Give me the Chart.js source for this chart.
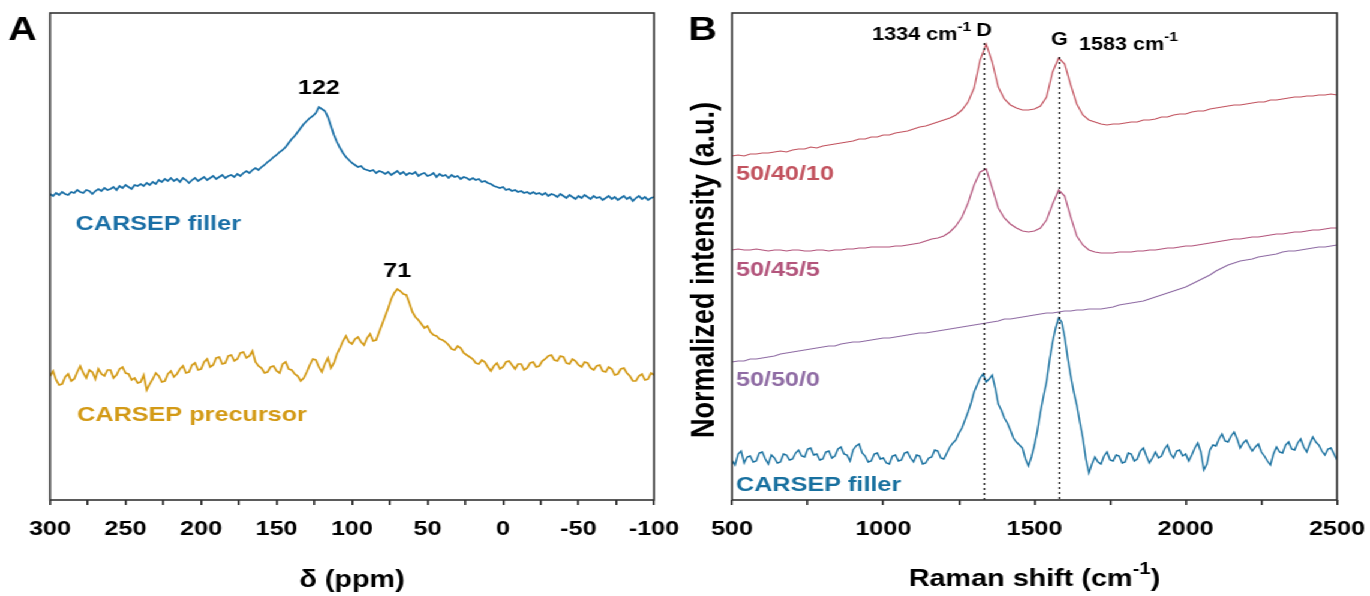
<!DOCTYPE html>
<html lang="en">
<head>
<meta charset="UTF-8">
<title>NMR and Raman spectra</title>
<script src="https://cdn.jsdelivr.net/npm/chart.js"></script>
<style>
  html, body { margin: 0; padding: 0; background: #fff; }
  /* the figure is drawn narrow and stretched sideways, like the original */
  #stage { position: absolute; left: 0; top: 0; width: 1142px; height: 596px;
           transform: scaleX(1.19965); transform-origin: 0 0; }
  #stage canvas { position: absolute; top: 0; }
</style>
</head>
<body>
<div id="stage">
  <canvas id="nmrChart" width="571" height="596" style="left:0"></canvas>
  <canvas id="ramanChart" width="571" height="596" style="left:571px"></canvas>
</div>
<script>
// ---- panel A: 13C NMR, delta (ppm) ----
const ppmA = [300,298,296,294,292,290,288,286,284,282,280,278,276,274,272,270,268,266,264,262,
  260,258,256,254,252,250,248,246,244,242,240,238,236,234,232,230,228,226,224,222,
  220,218,216,214,212,210,208,206,204,202,200,198,196,194,192,190,188,186,184,182,
  180,178,176,174,172,170,168,166,164,162,160,158,156,154,152,150,148,146,144,142,
  140,138,136,134,132,130,128,126,124,122,120,118,116,114,112,110,108,106,104,102,
  100,98,96,94,92,90,88,86,84,82,80,78,76,74,72,70,68,66,64,62,
  60,58,56,54,52,50,48,46,44,42,40,38,36,34,32,30,28,26,24,22,
  20,18,16,14,12,10,8,6,4,2,0,-2,-4,-6,-8,-10,-12,-14,-16,-18,
  -20,-22,-24,-26,-28,-30,-32,-34,-36,-38,-40,-42,-44,-46,-48,-50,-52,-54,-56,-58,
  -60,-62,-64,-66,-68,-70,-72,-74,-76,-78,-80,-82,-84,-86,-88,-90,-92,-94,-96,-98,
  -100];
const fillerA = [306,304,307,305,308,306,305,308,307,310,308,307,310,309,306,309,311,309,312,310,
  311,313,310,314,312,315,313,311,315,314,316,314,317,315,318,316,320,318,321,319,
  322,319,321,318,322,320,317,320,322,319,321,323,320,322,324,321,323,325,322,324,
  325,323,326,324,327,329,327,330,332,330,333,335,338,340,343,345,348,350,353,357,
  361,364,368,372,376,379,382,384,387,393,391,389,383,374,365,358,352,347,343,340,
  337,335,333,334,331,330,329,330,327,329,328,326,328,325,327,329,326,328,325,327,
  326,328,324,326,327,324,325,327,323,326,324,325,322,325,323,324,321,323,322,320,
  322,320,321,318,319,317,316,314,313,312,313,310,311,309,310,308,309,307,308,306,
  308,306,307,305,307,304,306,305,303,306,304,302,305,303,301,304,302,305,303,301,
  304,302,303,300,302,304,301,303,300,302,304,301,303,299,302,304,301,303,300,302,
  303];
const precursorA = [124,129,120,115,116,123,126,119,121,128,134,127,122,130,128,121,131,126,124,130,
  130,122,125,131,133,127,126,120,122,117,118,125,110,116,121,127,124,118,119,126,
  129,123,126,131,134,127,128,135,137,130,131,138,141,133,135,142,143,136,137,144,
  145,139,141,147,148,142,144,149,138,134,132,127,128,133,134,129,127,136,138,131,
  130,126,124,119,122,128,135,141,140,133,128,136,142,132,137,146,152,159,164,158,
  156,161,163,158,155,162,166,159,160,168,176,184,192,201,207,211,209,206,205,197,
  188,183,180,176,172,174,168,165,164,161,160,158,155,151,150,154,152,147,145,143,
  141,137,136,140,138,133,129,134,137,131,133,138,139,135,131,136,136,130,132,137,
  138,133,134,139,141,144,145,140,139,144,143,137,136,141,139,135,133,138,137,132,
  130,134,135,129,128,133,131,125,126,131,132,127,124,119,119,124,126,120,121,127,
  125];

// ---- panel B: Raman shift (cm-1) ----
const ramanX = [500,520,540,560,580,600,620,640,660,680,
  700,720,740,760,780,800,820,840,860,880,
  900,920,940,960,980,1000,1020,1040,1060,1080,
  1100,1120,1140,1160,1180,1200,1220,1240,1260,1280,
  1300,1320,1340,1360,1380,1400,1420,1440,1460,1480,
  1500,1520,1540,1560,1580,1600,1620,1640,1660,1680,
  1700,1720,1740,1760,1780,1800,1820,1840,1860,1880,
  1900,1920,1940,1960,1980,2000,2020,2040,2060,2080,
  2100,2120,2140,2160,2180,2200,2220,2240,2260,2280,
  2300,2320,2340,2360,2380,2400,2420,2440,2460,2480,
  2500];
const s50_40_10 = [344,345,344,346,346,347,347,348,349,348,
  350,351,351,353,352,354,355,356,357,358,
  359,361,361,363,363,365,365,367,368,369,
  371,373,374,376,378,380,382,385,390,398,
  412,440,456,438,413,401,395,392,390,390,
  391,394,403,428,442,436,415,396,385,380,
  378,376,375,376,376,377,378,378,380,380,
  381,383,383,385,386,386,388,389,389,391,
  392,393,394,395,395,396,397,398,398,400,
  400,401,402,403,403,404,404,405,405,406,
  405];
const s50_45_5 = [250,251,250,250,251,250,249,250,250,249,
  250,250,249,249,250,250,249,250,250,251,
  251,252,252,253,253,253,253,254,254,255,
  256,257,259,261,262,264,268,274,283,297,
  315,328,331,312,292,282,276,272,269,268,
  269,272,280,296,310,304,283,264,255,250,
  248,247,247,247,248,248,248,249,249,250,
  250,251,252,252,253,254,254,255,256,257,
  258,259,260,261,261,262,263,263,264,265,
  266,266,267,268,268,269,270,270,271,272,
  272];
const s50_50_0 = [138,139,139,141,141,142,143,144,146,147,
  148,149,150,151,152,153,154,154,156,157,
  158,158,159,160,161,162,162,163,164,165,
  166,167,167,168,169,170,171,172,173,174,
  175,176,177,178,179,181,181,182,183,184,
  185,186,187,187,188,189,189,190,190,191,
  191,191,192,193,195,196,197,198,199,201,
  203,205,207,209,211,213,216,219,222,225,
  229,232,235,237,239,240,241,243,244,245,
  246,248,249,249,250,251,252,253,253,254,
  255];
// the filler spectrum is noisier, so it is read at a finer step
const ramanXFine = [500,510,520,530,540,550,560,570,580,590,600,610,620,630,640,650,660,670,680,690,
  700,710,720,730,740,750,760,770,780,790,800,810,820,830,840,850,860,870,880,890,
  900,910,920,930,940,950,960,970,980,990,1000,1010,1020,1030,1040,1050,1060,1070,1080,1090,
  1100,1110,1120,1130,1140,1150,1160,1170,1180,1190,1200,1210,1220,1230,1240,1250,1260,1270,1280,1290,
  1300,1310,1320,1330,1340,1350,1360,1370,1380,1390,1400,1410,1420,1430,1440,1450,1460,1470,1480,1490,
  1500,1510,1520,1530,1540,1550,1560,1570,1580,1590,1600,1610,1620,1630,1640,1650,1660,1670,1680,1690,
  1700,1710,1720,1730,1740,1750,1760,1770,1780,1790,1800,1810,1820,1830,1840,1850,1860,1870,1880,1890,
  1900,1910,1920,1930,1940,1950,1960,1970,1980,1990,2000,2010,2020,2030,2040,2050,2060,2070,2080,2090,
  2100,2110,2120,2130,2140,2150,2160,2170,2180,2190,2200,2210,2220,2230,2240,2250,2260,2270,2280,2290,
  2300,2310,2320,2330,2340,2350,2360,2370,2380,2390,2400,2410,2420,2430,2440,2450,2460,2470,2480,2490,
  2500];
const fillerB = [40,35,46,49,37,43,44,38,39,47,48,41,36,45,42,37,38,46,45,40,
  41,47,50,44,43,51,52,45,46,40,41,48,49,42,44,51,53,46,45,39,
  50,54,56,47,44,38,39,46,47,41,42,37,36,44,45,39,40,47,48,42,
  38,45,44,36,37,42,43,50,49,42,41,47,53,57,60,67,72,80,88,97,
  108,115,122,126,118,121,125,112,96,90,82,77,70,62,58,55,52,41,34,43,
  55,70,88,104,118,140,158,172,182,178,163,142,124,108,95,78,62,41,27,36,
  43,38,36,44,48,40,39,45,44,37,38,47,46,39,41,49,52,44,37,42,
  48,42,44,51,55,46,42,49,50,44,46,39,45,52,57,48,30,36,50,55,
  54,61,66,59,58,64,68,61,52,57,60,54,49,53,56,48,44,39,35,46,
  53,48,47,55,58,51,50,57,61,53,48,56,63,58,55,49,45,51,52,46,
  40];
const bandD = 1334, bandG = 1583;

const FONT = '"Liberation Sans", Arial, sans-serif';
const BLUE = '#1a6fa6', GOLD = '#d39a16';
const RED = '#c2535f', PINK = '#b3557c', PURPLE = '#8f6ca4', BLUE_B = '#18709f';

const pts = (xs, ys) => xs.map((x, i) => ({ x: x, y: ys[i] }));
const f = (size) => 'bold ' + size + 'px ' + FONT;

function drawRich(ctx, parts, x, y, align) {
  let total = 0;
  parts.forEach(p => { ctx.font = p.font; p.w = ctx.measureText(p.t).width; total += p.w; });
  let cx = align === 'center' ? x - total / 2 : x;
  ctx.textAlign = 'left';
  parts.forEach(p => { ctx.font = p.font; ctx.fillText(p.t, cx, y + (p.dy || 0)); cx += p.w; });
}

const frame = {
  id: 'frame',
  afterDraw(chart) {
    const { ctx, chartArea: a } = chart;
    ctx.save();
    ctx.strokeStyle = '#333';
    ctx.lineWidth = 1.6;
    ctx.strokeRect(a.left, a.top, a.right - a.left, a.bottom - a.top);
    ctx.restore();
  }
};

const nmrLabels = {
  id: 'nmrLabels',
  afterDatasetsDraw(chart) {
    const { ctx, scales: { x, y } } = chart;
    ctx.save();
    ctx.textBaseline = 'middle';
    ctx.fillStyle = '#000';
    ctx.textAlign = 'center';
    ctx.font = f(33);
    ctx.fillText('A', 18.7, 31);
    ctx.font = f(21);
    ctx.fillText('122', x.getPixelForValue(122), y.getPixelForValue(412));
    ctx.fillText('71', x.getPixelForValue(70), y.getPixelForValue(229));
    ctx.textAlign = 'left';
    ctx.fillStyle = BLUE;
    ctx.fillText('CARSEP filler', x.getPixelForValue(283), y.getPixelForValue(276));
    ctx.fillStyle = GOLD;
    ctx.fillText('CARSEP precursor', x.getPixelForValue(282), y.getPixelForValue(85));
    ctx.restore();
  }
};

const ramanLabels = {
  id: 'ramanLabels',
  afterDatasetsDraw(chart) {
    const { ctx, scales: { x, y }, chartArea: a } = chart;
    ctx.save();
    // band markers
    ctx.strokeStyle = '#111';
    ctx.lineWidth = 1.3;
    ctx.setLineDash([2, 3]);
    [[bandD, 457], [bandG, 443]].forEach(([b, top]) => {
      const px = x.getPixelForValue(b);
      ctx.beginPath();
      ctx.moveTo(px, y.getPixelForValue(top));
      ctx.lineTo(px, a.bottom);
      ctx.stroke();
    });
    ctx.setLineDash([]);

    ctx.textBaseline = 'middle';
    ctx.fillStyle = '#000';
    ctx.textAlign = 'center';
    ctx.font = f(33);
    ctx.fillText('B', 14.6, 31);

    ctx.font = f(18);
    ctx.fillText('D', x.getPixelForValue(1333), y.getPixelForValue(469));
    ctx.fillText('G', x.getPixelForValue(1583), y.getPixelForValue(460));
    drawRich(ctx, [{ t: '1334 cm', font: f(18) }, { t: '-1', font: f(13), dy: -8 }],
      x.getPixelForValue(963), y.getPixelForValue(465), 'left');
    drawRich(ctx, [{ t: '1583 cm', font: f(18) }, { t: '-1', font: f(13), dy: -8 }],
      x.getPixelForValue(1647), y.getPixelForValue(455), 'left');

    ctx.font = f(21);
    ctx.textAlign = 'left';
    const lx = x.getPixelForValue(513);
    ctx.fillStyle = RED;    ctx.fillText('50/40/10', lx, y.getPixelForValue(326));
    ctx.fillStyle = PINK;   ctx.fillText('50/45/5', lx, y.getPixelForValue(230));
    ctx.fillStyle = PURPLE; ctx.fillText('50/50/0', lx, y.getPixelForValue(120));
    ctx.fillStyle = BLUE_B; ctx.fillText('CARSEP filler', lx, y.getPixelForValue(15));

    // axis titles
    ctx.fillStyle = '#000';
    drawRich(ctx, [{ t: 'Raman shift (cm', font: f(24) }, { t: '-1', font: f(17), dy: -10 }, { t: ')', font: f(24) }],
      (a.left + a.right) / 2, 579, 'center');
    ctx.translate(16.7, 270);
    ctx.rotate(-Math.PI / 2);
    ctx.textAlign = 'center';
    ctx.font = f(27);
    ctx.fillText('Normalized intensity (a.u.)', 0, 0);
    ctx.restore();
  }
};

const common = {
  responsive: false,
  animation: false,
  plugins: { legend: { display: false }, tooltip: { enabled: false } },
  elements: { point: { radius: 0 }, line: { tension: 0 } }
};

function xAxis(extra) {
  return Object.assign({
    type: 'linear',
    afterFit: s => { s.height = 96; },
    border: { display: false },
    grid: { drawOnChartArea: false, tickLength: 5, color: '#222', lineWidth: 1.6 }
  }, extra);
}

// small tick padding keeps the end labels inside the layout padding
const tickFont = { family: FONT, size: 21, weight: 'bold', lineHeight: 1.9 };

new Chart(document.getElementById('nmrChart'), {
  type: 'line',
  data: {
    datasets: [
      { data: pts(ppmA, fillerA), borderColor: BLUE, borderWidth: 1.7 },
      { data: pts(ppmA, precursorA), borderColor: GOLD, borderWidth: 1.7 }
    ]
  },
  options: Object.assign({}, common, {
    layout: { padding: { left: 41.7, right: 25.8, top: 13, bottom: 0 } },
    scales: {
      x: xAxis({
        min: -100, max: 300, reverse: true,
        ticks: { stepSize: 25, autoSkip: false, maxRotation: 0, padding: 4, color: '#000', font: tickFont,
                 callback: v => (v % 50 === 0 ? String(v) : '') },
        title: { display: true, text: 'δ (ppm)', color: '#000',
                 font: { family: FONT, size: 24, weight: 'bold' }, padding: { top: 4, bottom: 1 } }
      }),
      y: { display: false, min: 0, max: 487 }
    }
  }),
  plugins: [frame, nmrLabels]
});

new Chart(document.getElementById('ramanChart'), {
  type: 'line',
  data: {
    datasets: [
      { data: pts(ramanX, s50_40_10), borderColor: RED, borderWidth: 1.2 },
      { data: pts(ramanX, s50_45_5), borderColor: PINK, borderWidth: 1.2 },
      { data: pts(ramanX, s50_50_0), borderColor: PURPLE, borderWidth: 1.2 },
      { data: pts(ramanXFine, fillerB), borderColor: BLUE_B, borderWidth: 1.4 }
    ]
  },
  options: Object.assign({}, common, {
    layout: { padding: { left: 39.2, right: 27.5, top: 13, bottom: 0 } },
    scales: {
      x: xAxis({
        min: 500, max: 2500,
        ticks: { stepSize: 250, autoSkip: false, maxRotation: 0, padding: 4, color: '#000', font: tickFont,
                 callback: v => (v % 500 === 0 ? String(v) : '') }
      }),
      y: { display: false, min: 0, max: 487 }
    }
  }),
  plugins: [frame, ramanLabels]
});
</script>
</body>
</html>
